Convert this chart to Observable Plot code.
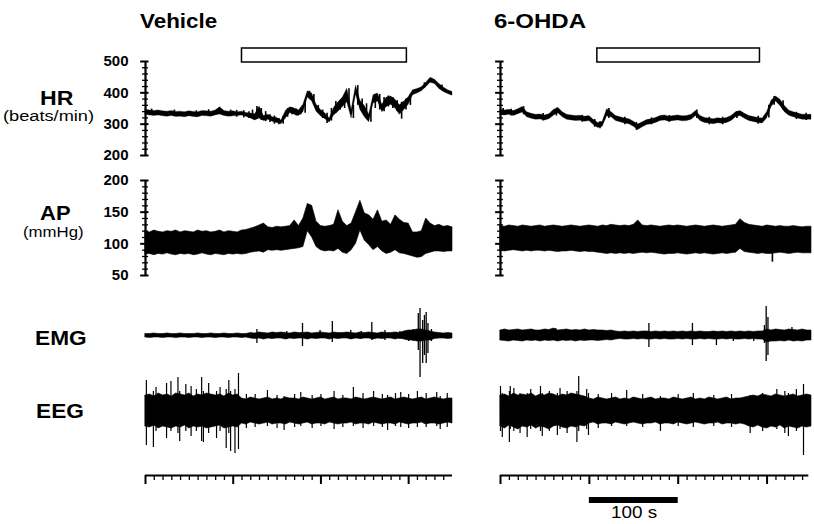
<!DOCTYPE html>
<html><head><meta charset="utf-8">
<script src="https://cdn.jsdelivr.net/npm/d3@7"></script>
<script src="https://cdn.jsdelivr.net/npm/@observablehq/plot@0.6"></script>
<style>
html,body{margin:0;padding:0;background:#fff;}
#fig{position:relative;width:814px;height:524px;overflow:hidden;background:#fff;font-family:"Liberation Sans",Arial,Helvetica,sans-serif;color:#000;}
.p{position:absolute;line-height:0;}
.lab{position:absolute;white-space:nowrap;line-height:1;transform-origin:0 0;}
</style></head><body><div id="fig"></div><script>
// ---------- data ----------
const panels = ["Vehicle", "6-OHDA"];
const stimStart = [110, 109];   // s
const stimEnd = [298, 292];     // s
const timeAxisEnd = [350, 347];
const scaleBar = [100, 200];    // 100 s
const T = [0,5,10,15,20,25,30,35,40,45,50,55,60,65,70,75,80,85,90,95,100,105,110,115,120,125,130,135,140,145,150,155,160,165,170,175,180,185,190,195,200,205,210,215,220,225,230,235,240,245,250,255,260,265,270,275,280,285,290,295,300,305,310,315,320,325,330,335,340,345,350];
const timeMajor = [0,100,200,300];
const timeMinor = [10,20,30,40,50,60,70,80,90,110,120,130,140,150,160,170,180,190,210,220,230,240,250,260,270,280,290,310,320,330,340];
const hrMajor = [200,300,400,500];
const hrMinor = [220,240,260,280,320,340,360,380,420,440,460,480];
const apMajor = [50,100,150,200];
const apMinor = [60,70,80,90,110,120,130,140,160,170,180,190];

// HR (beats/min) envelope
const hrLoVeh = [330,328,326,328,325,324,326,323,324,322,325,323,322,326,325,324,328,331,326,324,325,
  326,328,324,318,312,318,310,314,308,304,300,318,336,330,326,338,385,372,340,325,
  316,305,328,340,355,370,318,395,345,322,306,366,372,338,355,362,350,330,345,362,
  392,398,405,418,432,428,412,403,396,391];
const hrHiVeh = [346,344,342,344,341,340,342,339,340,338,341,339,338,342,341,340,344,354,342,340,341,
  338,340,336,334,332,356,326,330,322,320,312,342,354,350,344,362,405,398,362,345,
  334,318,352,370,385,413,345,423,375,358,330,392,398,362,385,388,378,360,372,386,
  408,412,418,432,448,442,428,417,408,403];
const hrLoOhda = [329,328,330,326,332,337,322,317,314,315,312,316,327,335,322,314,312,310,311,308,310,
  297,288,292,325,322,310,306,302,300,292,281,290,297,300,304,310,312,308,310,312,
  309,310,314,326,310,304,302,300,303,301,304,310,322,326,317,310,307,304,302,318,
  355,372,358,338,327,322,318,314,314,314];
const hrHiOhda = [345,344,346,342,348,355,338,333,330,331,328,332,345,352,338,330,328,326,327,324,326,
  313,304,308,348,338,326,322,318,316,308,299,306,313,316,320,326,328,324,326,328,
  325,326,330,342,326,320,318,316,319,317,320,326,338,342,333,326,323,320,318,338,
  375,388,378,358,343,338,334,330,330,330];
// HR beat-to-beat excursions between samples
const hrSpkTVeh = [7,33,58,72,97,104,112,118,122,127,132,137,142,147,152,157,162,167,172,177,182,187,192,197,202,207,212,217,222,227,232,237,242,247,252,257,262,267,272,277,282,287,292,297,302,318,338];
const hrSpkHiVeh = [348,345,343,346,345,344,343,340,345,356,350,340,330,326,318,325,350,352,348,345,375,405,395,360,345,335,350,372,375,385,413,360,423,380,365,345,395,395,385,390,385,375,370,380,395,432,425];
const hrSpkLoVeh = [328,325,322,326,324,322,320,318,318,315,312,308,305,300,298,300,322,330,326,330,335,385,370,335,318,302,310,335,345,350,360,318,360,340,318,306,350,345,340,355,350,340,316,345,360,415,410];
const hrSpkTOhda = [3,12,26,48,63,92,106,112,122,140,153,170,190,221,235,250,266,290,302,308,318,333,344];
const hrSpkHiOhda = [350,348,356,334,348,328,315,308,350,322,305,320,328,345,322,322,340,325,360,388,375,338,335];
const hrSpkLoOhda = [328,326,330,310,326,306,290,285,318,298,280,298,306,318,298,298,318,300,320,360,345,315,312];

// AP (mmHg) envelope
const apLoVeh = [83,84,82,84,83,85,83,82,84,83,84,82,83,85,83,82,84,83,82,84,83,84,83,
  84,86,87,88,86,90,89,90,89,90,91,92,93,95,120,110,95,90,88,89,88,92,86,84,
  90,100,121,105,98,90,95,88,84,86,90,85,84,82,80,78,79,84,86,88,88,87,88,88];
const apHiVeh = [120,118,121,119,118,120,119,121,118,120,119,118,121,119,120,118,119,121,118,120,119,118,121,
  122,124,126,129,132,126,125,127,126,127,128,137,128,140,163,160,135,128,127,128,130,153,135,128,
  132,150,168,148,145,138,153,135,137,130,145,138,133,132,118,118,120,140,132,128,130,127,128,126];
const apLoOhda = [89,88,89,90,89,88,89,88,89,89,88,89,88,87,88,88,89,88,87,88,87,
  87,86,85,84,85,84,85,84,85,84,85,86,85,86,85,84,83,84,84,85,
  84,83,84,85,84,85,84,83,84,85,84,85,86,92,87,86,85,84,85,84,
  84,85,86,85,84,85,86,85,85,85];
const apHiOhda = [128,127,129,128,127,129,128,127,128,129,127,128,129,128,127,128,129,128,127,128,129,
  128,127,129,128,130,129,128,129,128,130,137,129,128,129,128,127,128,129,128,129,
  128,127,128,129,128,127,128,129,128,127,128,129,130,139,133,130,129,128,127,129,
  128,127,128,127,127,128,127,126,127,127];
const apSpkTOhda = [306];
const apSpkHiOhda = [86];
const apSpkLoOhda = [71];

// EMG (arbitrary units) envelope and spikes
const emgHiVeh = [1.5,1.5,2,1.5,1.5,2,1.5,1.5,2,1.5,1.5,1.5,2,1.5,1.5,2,1.5,1.5,2,1.5,1.5,2,1.5,1.5,
  2.5,2,3,2.5,2,3,2.5,3,2.5,2,3,2.5,2.5,3,2,2.5,3,2.5,2,3,2.5,2.5,3,2.5,2,3,2.5,3,2.5,2,3,2.5,2.5,3,2.5,
  4,5,5,6,6,5,4,3,2.5,2,2.5,2];
const emgLoVeh = [-2,-2.5,-2,-2,-2.5,-2,-2,-2.5,-2,-2,-2.5,-2,-2,-2.5,-2,-2,-2.5,-2,-2,-2.5,-2,-2,-2.5,-2,
  -3,-3.5,-3,-4,-3,-3.5,-3,-3,-4,-3,-3.5,-3,-3,-4,-3,-3.5,-3,-3,-4,-3,-3.5,-3,-3,-4,-3,-3.5,-3,-3,-4,-3,-3.5,-3,-3,-4,-3,
  -4,-5,-5,-6,-6,-5,-5,-3.5,-3,-3,-3.5,-3];
const emgSpkTVeh = [127,161,179,199,213,234,246,258,273,290,300,305,311,313,316,318,320,322,326];
const emgSpkHiVeh = [6,4,12,5,14,5,4,13,5,4,5,6,22,27,15,20,23,12,6];
const emgSpkLoVeh = [-8,-4,-11,-3,-7,-3,-4,-5,-5,-4,-6,-6,-15,-42,-28,-20,-28,-18,-6];
const emgHiOhda = [5,6,5,5.5,6,5,5.5,6,5,5,6,5.5,7,5,5.5,6,5,5.5,5,6,5,5.5,5,5,4.5,5,
  4,3.5,4,3.5,4,3.5,4,4,3.5,4,3.5,4,3.5,4,3.5,4,3.5,4,3.5,4,3.5,3.5,4,3.5,4,3.5,4,3.5,4,3.5,4,3.5,4,4,
  6,5,6,5.5,5,6,5.5,5,6,5,5];
const emgLoOhda = [-5,-5.5,-6,-5,-5.5,-6,-5,-5.5,-5,-6,-5,-5.5,-5,-6,-5,-5.5,-5,-6,-5,-5.5,-5,-5,-5.5,-5,-4.5,-5,
  -4,-3.5,-4,-4,-3.5,-4,-3.5,-4,-4,-3.5,-4,-3.5,-4,-4,-3.5,-4,-3.5,-4,-4,-3.5,-4,-3.5,-4,-4,-3.5,-4,-3.5,-4,-4,-3.5,-4,-3.5,-4,-4,
  -7,-6,-6,-5.5,-6,-5,-6,-5.5,-6,-5,-5];
const emgSpkTOhda = [62,95,167,216,243,262,285,297,299,301,328];
const emgSpkHiOhda = [7,5,12,12,4,3,3,10,29,18,8];
const emgSpkLoOhda = [-3,-4,-12,-10,-10,-6,-6,-8,-26,-20,-3];

// EEG (arbitrary units) envelope and spikes
const eegHiVeh = [16,17,15,18,16,17,15,18,17,16,18,15,17,16,18,17,16,17,15,18,16,17,
  13,12,14,13,12,13,14,12,13,12,14,13,13,12,14,13,12,13,14,12,13,14,12,13,13,12,14,13,12,13,14,13,12,13,14,12,13,14,13,12,13,14,12,13,14,13,12,13,13];
const eegLoVeh = [-15,-16,-14,-17,-15,-16,-17,-15,-16,-14,-17,-15,-16,-15,-17,-16,-15,-14,-17,-16,-15,-16,
  -12,-13,-11,-12,-13,-12,-11,-13,-12,-12,-13,-11,-12,-13,-12,-11,-13,-12,-12,-13,-11,-12,-13,-12,-12,-11,-13,-12,-12,-13,-11,-12,-13,-12,-12,-13,-11,-12,-13,-12,-12,-11,-13,-12,-12,-13,-12,-11,-12];
const eegSpkTVeh = [1,9,12,24,29,37,39,46,52,58,64,66,72,81,85,92,95,97,102,106,115,125,139,150,158,170,177,190,200,215,225,237,248,260,270,276,285,291,300,310,320,332,336,344];
const eegSpkHiVeh = [31,20,24,28,30,34,20,27,25,22,34,20,28,20,24,22,31,20,22,38,17,17,21,16,15,17,19,16,17,20,16,24,18,20,17,16,18,19,17,20,18,19,15,18];
const eegSpkLoVeh = [-34,-36,-20,-27,-20,-22,-30,-20,-25,-20,-30,-31,-22,-27,-20,-37,-22,-40,-42,-38,-17,-16,-15,-17,-19,-16,-15,-17,-15,-18,-16,-15,-17,-15,-16,-19,-15,-16,-17,-16,-16,-15,-18,-16];
const eegHiOhda = [16,17,15,18,16,17,16,18,15,17,16,18,17,15,17,16,18,17,16,15,
  13,12,14,13,12,13,14,12,13,12,14,13,12,13,14,12,13,13,12,14,13,12,13,14,12,13,12,14,13,12,13,14,12,13,13,14,
  15,16,15,17,16,15,17,16,15,16,17,15,16,17,16];
const eegLoOhda = [-15,-17,-14,-16,-18,-15,-16,-14,-17,-15,-16,-18,-15,-14,-16,-17,-15,-16,-14,-15,
  -12,-11,-13,-12,-12,-13,-11,-12,-13,-12,-11,-12,-13,-12,-12,-11,-13,-12,-12,-13,-11,-12,-13,-12,-11,-12,-13,-12,-12,-11,-13,-12,-12,-13,-12,-13,
  -15,-16,-14,-16,-17,-15,-16,-14,-17,-15,-16,-17,-15,-16,-15];
const eegSpkTOhda = [0,2,10,11,15,22,30,34,45,47,55,64,67,75,86,88,97,99,110,125,142,160,180,200,217,240,260,281,295,311,320,324,333,341];
const eegSpkHiOhda = [25,18,20,25,23,18,18,22,25,18,20,18,23,20,20,35,22,18,17,18,21,17,15,17,18,16,17,16,18,22,20,18,22,27];
const eegSpkLoOhda = [-20,-26,-31,-18,-20,-22,-26,-18,-20,-25,-20,-24,-18,-22,-31,-20,-18,-24,-17,-15,-15,-16,-20,-15,-16,-15,-16,-22,-20,-18,-22,-25,-20,-44];

// ---------- sanity check ----------
const env = {hrLoVeh,hrHiVeh,hrLoOhda,hrHiOhda,apLoVeh,apHiVeh,apLoOhda,apHiOhda,emgHiVeh,emgLoVeh,emgHiOhda,emgLoOhda,eegHiVeh,eegLoVeh,eegHiOhda,eegLoOhda};
for (const [k, v] of Object.entries(env)) if (v.length !== T.length) throw new Error(k + " has " + v.length + " values, expected " + T.length);
const spk = [[hrSpkTVeh,hrSpkHiVeh,hrSpkLoVeh],[hrSpkTOhda,hrSpkHiOhda,hrSpkLoOhda],[emgSpkTVeh,emgSpkHiVeh,emgSpkLoVeh],[emgSpkTOhda,emgSpkHiOhda,emgSpkLoOhda],[eegSpkTVeh,eegSpkHiVeh,eegSpkLoVeh],[eegSpkTOhda,eegSpkHiOhda,eegSpkLoOhda]];
spk.forEach((s, j) => { if (s[0].length !== s[1].length || s[0].length !== s[2].length) throw new Error("spike set " + j + " lengths " + s.map(a => a.length)); });

// ---------- drawing ----------
const fig = document.getElementById("fig");
const FONT = '"Liberation Sans", Arial, Helvetica, sans-serif';
const sty = {background: "transparent", overflow: "visible", fontFamily: FONT, fontSize: "15px", fontWeight: "bold", color: "black"};
const COL = [{left: 100, width: 360, ml: 45, mr: 8}, {left: 460, width: 354, ml: 40, mr: 3}];
const idx = T.map((_, i) => i);

function place(svg, left, top) {
  const d = document.createElement("div");
  d.className = "p"; d.style.left = left + "px"; d.style.top = top + "px";
  d.appendChild(svg); fig.appendChild(d);
}
function panel(c, top, height, mt, mb, y, marks) {
  const g = COL[c];
  const svg = Plot.plot({width: g.width, height, marginLeft: g.ml, marginRight: g.mr, marginTop: mt, marginBottom: mb,
    x: {domain: [0, 350], axis: null}, y, style: sty, marks});
  place(svg, g.left, top);
}
function band(lo, hi, sw = 0.6) {
  return Plot.areaY(idx, {x: i => T[i], y1: i => lo[i], y2: i => hi[i], fill: "black", stroke: "black", strokeWidth: sw});
}
function spikes(t, hi, lo, w = 1.3) {
  return Plot.ruleX(t.map((_, i) => i), {x: i => t[i], y1: i => lo[i], y2: i => hi[i], stroke: "black", strokeWidth: w});
}
function yAxis(major, minor) {
  return [
    Plot.ruleX([0], {y1: major[0], y2: major[major.length - 1], stroke: "black", strokeWidth: 2.2}),
    Plot.ruleY(minor, {x1: -3.4, x2: 3.4, stroke: "black", strokeWidth: 1.3}),
    Plot.ruleY(major, {x1: -5.5, x2: 4, stroke: "black", strokeWidth: 2})
  ];
}

const hr = [[hrLoVeh, hrHiVeh, hrSpkTVeh, hrSpkHiVeh, hrSpkLoVeh], [hrLoOhda, hrHiOhda, hrSpkTOhda, hrSpkHiOhda, hrSpkLoOhda]];
const ap = [[apLoVeh, apHiVeh], [apLoOhda, apHiOhda]];
const emg = [[emgLoVeh, emgHiVeh, emgSpkTVeh, emgSpkHiVeh, emgSpkLoVeh], [emgLoOhda, emgHiOhda, emgSpkTOhda, emgSpkHiOhda, emgSpkLoOhda]];
const eeg = [[eegLoVeh, eegHiVeh, eegSpkTVeh, eegSpkHiVeh, eegSpkLoVeh], [eegLoOhda, eegHiOhda, eegSpkTOhda, eegSpkHiOhda, eegSpkLoOhda]];

for (let c = 0; c < 2; c++) {
  const labeled = c === 0;
  // stimulus bar
  panel(c, 46, 18, 2, 2, {domain: [0, 1], axis: null}, [
    Plot.rect([0], {x1: () => stimStart[c], x2: () => stimEnd[c], y1: 0, y2: 1, fill: "white", stroke: "black", strokeWidth: 1.5})
  ]);
  // HR
  panel(c, 40, 130, 21, 15,
    labeled ? {domain: [200, 500], axis: "left", ticks: hrMajor, tickSize: 0, tickPadding: 17, label: null, tickFormat: d => String(d)} : {domain: [200, 500], axis: null},
    [...yAxis(hrMajor, hrMinor), band(hr[c][0], hr[c][1], 0.3), spikes(hr[c][2], hr[c][3], hr[c][4], 1.6)]);
  // AP
  const apMarks = [...yAxis(apMajor, apMinor), band(ap[c][0], ap[c][1])];
  if (c === 1) apMarks.push(spikes(apSpkTOhda, apSpkHiOhda, apSpkLoOhda, 1.6));
  panel(c, 165, 120, 15, 10,
    labeled ? {domain: [50, 200], axis: "left", ticks: apMajor, tickSize: 0, tickPadding: 17, label: null, tickFormat: d => String(d)} : {domain: [50, 200], axis: null},
    apMarks);
  // EMG
  panel(c, 290, 90, 0, 0, {domain: [-45, 45], axis: null}, [band(emg[c][0], emg[c][1]), spikes(emg[c][2], emg[c][3], emg[c][4])]);
  // EEG
  panel(c, 360, 100, 0, 0, {domain: [-49, 51], axis: null}, [band(eeg[c][0], eeg[c][1]), spikes(eeg[c][2], eeg[c][3], eeg[c][4], 1.2)]);
  // time axis
  panel(c, 475, 10, 0, 0, {domain: [0, 1], axis: null}, [
    Plot.ruleY([1], {x1: 0, x2: timeAxisEnd[c], stroke: "black", strokeWidth: 2}),
    Plot.ruleX(timeMajor, {y1: 1, y2: 0.1, stroke: "black", strokeWidth: 2}),
    Plot.ruleX(timeMinor, {y1: 1, y2: 0.5, stroke: "black", strokeWidth: 1.3})
  ]);
}
// scale bar (100 s), under the 6-OHDA time axis
panel(1, 497, 6, 0, 0, {domain: [0, 1], axis: null}, [
  Plot.rect([0], {x1: () => scaleBar[0], x2: () => scaleBar[1], y1: 0, y2: 1, fill: "black"})
]);

// ---------- text ----------
function label(text, x, baseline, fs, weight, sx) {
  const d = document.createElement("div");
  d.className = "lab"; d.textContent = text;
  d.style.left = x + "px"; d.style.top = (baseline - 0.846 * fs) + "px";
  d.style.fontSize = fs + "px"; d.style.fontWeight = weight; d.style.transform = `scaleX(${sx})`;
  fig.appendChild(d);
}
label(panels[0], 140, 28, 20, "bold", 1.12);
label(panels[1], 494, 28, 20, "bold", 1.2);
label("HR", 40, 105, 21, "bold", 1.1);
label("(beats/min)", 3, 121, 14, "normal", 1.3);
label("AP", 40, 220, 20, "bold", 1.1);
label("(mmHg)", 23, 237, 14, "normal", 1.2);
label("EMG", 35, 345, 21, "bold", 1.08);
label("EEG", 36, 418, 21, "bold", 1.08);
label("100 s", 611, 519, 16, "normal", 1.18);
</script></body></html>
